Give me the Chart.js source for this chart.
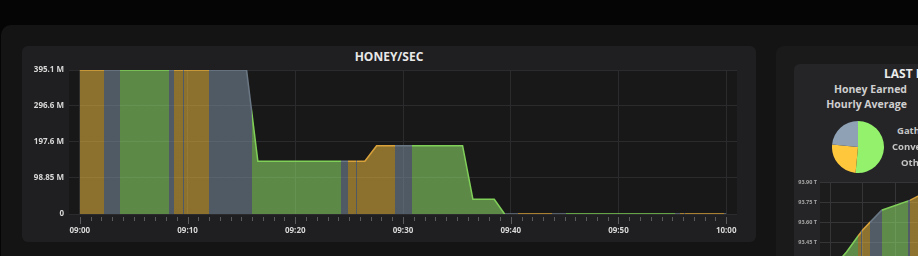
<!DOCTYPE html>
<html>
<head>
<meta charset="utf-8">
<script src="https://cdn.jsdelivr.net/npm/chart.js@4.4.1/dist/chart.umd.min.js"></script>
<style>
  html, body { margin: 0; padding: 0; width: 918px; height: 256px; overflow: hidden; background: #050505; font-family: "Open Sans", sans-serif; }
  .box { position: absolute; }
  #outer { left: 1px; top: 25px; width: 960px; height: 280px; background: #141414; border-radius: 10px; }
  #card { left: 22px; top: 46px; width: 734px; height: 196px; background: #1f1f21; border-radius: 6px; }
  #side { left: 776px; top: 46px; width: 220px; height: 260px; background: #1a1a1b; border-radius: 8px; }
  #sideCard { left: 794px; top: 64px; width: 220px; height: 240px; background: #252527; border-radius: 6px; }
  canvas { position: absolute; }
  .txt { position: absolute; white-space: nowrap; font-weight: 700; line-height: 1; }
</style>
</head>
<body>
<div class="box" id="outer"></div>
<div class="box" id="card"></div>
<div class="box" id="side"></div>
<div class="box" id="sideCard"></div>

<div class="txt" style="left:22px;width:734px;top:51px;text-align:center;font-size:12px;color:#e8e8e8">HONEY/SEC</div>
<canvas id="honeyChart" width="734" height="196" style="left:22px;top:46px"></canvas>

<div class="txt" style="left:884px;top:68px;font-size:12px;color:#ececec">LAST HOUR</div>
<div class="txt" style="right:11px;top:84px;font-size:10.5px;color:#cfcfcf">Honey Earned</div>
<div class="txt" style="right:11px;top:99px;font-size:10.5px;color:#cfcfcf">Hourly Average</div>
<canvas id="pieChart" width="52" height="52" style="left:832px;top:121px"></canvas>
<div class="txt" style="left:897px;top:126px;font-size:9.5px;color:#c4c4c4">Gathering</div>
<div class="txt" style="left:892px;top:142px;font-size:9.5px;color:#c4c4c4">Converting</div>
<div class="txt" style="left:901px;top:158px;font-size:9.5px;color:#c4c4c4">Other</div>
<canvas id="avgChart" width="160" height="130" style="left:794px;top:172px"></canvas>

<script>
// honey/sec over the hour (minutes after 09:00, millions per second)
var honeyMinutes = [0, 2.26, 3.71, 8.26, 8.73, 9.56, 9.68, 12.04, 15.48, 15.94,
  16.53, 24.21, 24.86, 25.63, 25.72, 26.46, 27.55, 29.25, 30.8, 35.53,
  36.49, 38.47, 39.43, 40.69, 43.85, 45.12, 55.27, 55.72, 56.1, 56.2, 59.8, 60];
var honeyPerSec = [395.1, 395.1, 395.1, 395.1, 395.1, 395.1, 395.1, 395.1, 395.1, 285,
  144.6, 144.6, 144.6, 144.6, 144.6, 144.6, 187.4, 187.4, 187.4, 187.4,
  40.3, 40.3, 0, 0, 0, 0, 0, 0, 0, 0, 0, 0];
// what the player was doing from each point to the next
var activity = ['conv', 'other', 'gath', 'other', 'conv', 'other', 'conv', 'other', 'other', 'gath',
  'gath', 'other', 'conv', 'other', 'conv', 'conv', 'conv', 'other', 'gath', 'gath',
  'gath', 'gath', 'other', 'conv', 'other', 'gath', 'other', 'conv', 'other', 'conv', 'other', 'other'];

var yTicks = [0, 98.85, 197.6, 296.6, 395.1];
var yTickLabels = ['0', '98.85 M', '197.6 M', '296.6 M', '395.1 M'];
var timeLabels = ['09:00', '09:10', '09:20', '09:30', '09:40', '09:50', '10:00'];

// hourly average panel
var pieLabels = ['Gathering', 'Converting', 'Other'];
var pieShares = [51.5, 25, 23.5];

var avgX = [-0.3, 0.51, 0.87, 0.95, 0.99, 1.23, 1.59, 2.41, 2.47, 2.71, 3.8];
var avgValues = [93.16, 93.38, 93.50, 93.525, 93.54, 93.60, 93.69, 93.76, 93.765, 93.795, 93.86];
var avgActivity = ['gath', 'gath', 'conv', 'other', 'conv', 'other', 'gath', 'other', 'conv', 'conv', 'conv'];
var avgTicks = [93.45, 93.60, 93.75, 93.90];
var avgTickLabels = ['93.45 T', '93.60 T', '93.75 T', '93.90 T'];

var lineColors = { gath: '#7fcf58', conv: '#d9a23a', other: '#6a7784' };
var fillColors = { gath: 'rgba(150,230,110,0.55)', conv: 'rgba(235,184,62,0.55)', other: 'rgba(126,144,162,0.55)' };
var pieColors = ['#93f16b', '#fec73c', '#8fa2b5'];

var font = 'Open Sans';

var plotBg = {
  id: 'plotBg',
  beforeDraw: function(chart, args, opts) {
    var a = chart.chartArea, ctx = chart.ctx;
    ctx.save();
    ctx.fillStyle = opts.color;
    ctx.fillRect(a.left, a.top, a.right - a.left, a.bottom - a.top);
    ctx.restore();
  }
};

var minuteTicks = {
  id: 'minuteTicks',
  afterDraw: function(chart) {
    if (chart.canvas.id !== 'honeyChart') return;
    var ctx = chart.ctx, x = chart.scales.x, b = chart.chartArea.bottom;
    ctx.save();
    ctx.strokeStyle = '#5a5a5c';
    ctx.lineWidth = 1;
    for (var m = 0; m <= 60; m++) {
      var px = Math.round(x.getPixelForValue(m)) + 0.5;
      ctx.beginPath();
      ctx.moveTo(px, b + 3);
      ctx.lineTo(px, b + (m % 10 === 0 ? 10 : 7));
      ctx.stroke();
    }
    ctx.restore();
  }
};

function xy(xs, ys) {
  return xs.map(function(v, i) { return { x: v, y: ys[i] }; });
}

// one horizontal gradient with hard stops per activity band (no seams between bands)
function bands(xs, acts, colors) {
  return function(c) {
    var chart = c.chart, a = chart.chartArea, sx = chart.scales.x;
    if (!a || !sx) return colors.gath;
    var w = a.right - a.left;
    var pos = function(v) { return Math.min(1, Math.max(0, (sx.getPixelForValue(v) - a.left) / w)); };
    var g = chart.ctx.createLinearGradient(a.left, 0, a.right, 0);
    for (var i = 0; i < xs.length - 1; i++) {
      var col = colors[acts[i]];
      g.addColorStop(pos(xs[i]), col);
      g.addColorStop(pos(xs[i + 1]), col);
    }
    return g;
  };
}

new Chart(document.getElementById('honeyChart').getContext('2d'), {
  type: 'line',
  data: {
    datasets: [{
      data: xy(honeyMinutes, honeyPerSec),
      fill: 'origin',
      borderWidth: 1.5,
      pointRadius: 0,
      tension: 0,
      borderColor: bands(honeyMinutes, activity, lineColors),
      backgroundColor: bands(honeyMinutes, activity, fillColors)
    }]
  },
  options: {
    responsive: false,
    animation: false,
    layout: { padding: { left: 0, right: 19, top: 24, bottom: 0 } },
    plugins: {
      legend: { display: false },
      tooltip: { enabled: false },
      plotBg: { color: '#181818' }
    },
    scales: {
      x: {
        type: 'linear', min: -1, max: 61,
        afterBuildTicks: function(s) {
          var t = [];
          for (var m = 0; m <= 60; m++) t.push({ value: m });
          s.ticks = t;
        },
        afterFit: function(s) { s.height = 28; },
        ticks: {
          autoSkip: false, maxRotation: 0, padding: 12, color: '#d8d8d8',
          font: { family: font, size: 8, weight: 'bold' },
          callback: function(v) { return v % 10 === 0 ? timeLabels[v / 10] : ''; }
        },
        grid: {
          drawTicks: false,
          color: function(c) { return c.tick && c.tick.value % 10 === 0 ? '#2b2b2d' : 'rgba(0,0,0,0)'; }
        },
        border: { display: false }
      },
      y: {
        min: 0, max: 395.1,
        afterBuildTicks: function(s) { s.ticks = yTicks.map(function(v) { return { value: v }; }); },
        afterFit: function(s) { s.width = 47; },
        ticks: {
          padding: 5, color: '#d8d8d8',
          font: { family: font, size: 8, weight: 'bold' },
          callback: function(v, i) { return yTickLabels[i]; }
        },
        grid: { drawTicks: false, color: '#2b2b2d' },
        border: { display: false }
      }
    }
  },
  plugins: [plotBg, minuteTicks]
});

new Chart(document.getElementById('pieChart').getContext('2d'), {
  type: 'pie',
  data: {
    labels: pieLabels,
    datasets: [{ data: pieShares, backgroundColor: pieColors, borderWidth: 0 }]
  },
  options: {
    responsive: false,
    animation: false,
    plugins: { legend: { display: false }, tooltip: { enabled: false } }
  }
});

new Chart(document.getElementById('avgChart').getContext('2d'), {
  type: 'line',
  data: {
    datasets: [{
      data: xy(avgX, avgValues),
      fill: 'origin',
      borderWidth: 1.5,
      pointRadius: 0,
      tension: 0,
      borderColor: bands(avgX, avgActivity, lineColors),
      backgroundColor: bands(avgX, avgActivity, fillColors)
    }]
  },
  options: {
    responsive: false,
    animation: false,
    layout: { padding: { left: 0, right: 0, top: 10, bottom: 0 } },
    plugins: { legend: { display: false }, tooltip: { enabled: false }, plotBg: { color: '#1c1c1d' } },
    scales: {
      x: {
        type: 'linear', min: -0.3077, max: 3.815,
        afterBuildTicks: function(s) { s.ticks = [0, 1, 2, 3].map(function(v) { return { value: v }; }); },
        afterFit: function(s) { s.height = 0; },
        ticks: { display: false },
        grid: { drawTicks: false, color: '#353537' },
        border: { display: false }
      },
      y: {
        min: 93.055, max: 93.90,
        afterBuildTicks: function(s) { s.ticks = avgTicks.map(function(v) { return { value: v }; }); },
        afterFit: function(s) { s.width = 26; },
        ticks: {
          padding: 3, color: '#a8a8a8',
          font: { family: font, size: 5.5, weight: 'bold' },
          callback: function(v, i) { return avgTickLabels[i]; }
        },
        grid: { drawTicks: false, color: '#353537' },
        border: { display: false }
      }
    }
  },
  plugins: [plotBg]
});
</script>
</body>
</html>
